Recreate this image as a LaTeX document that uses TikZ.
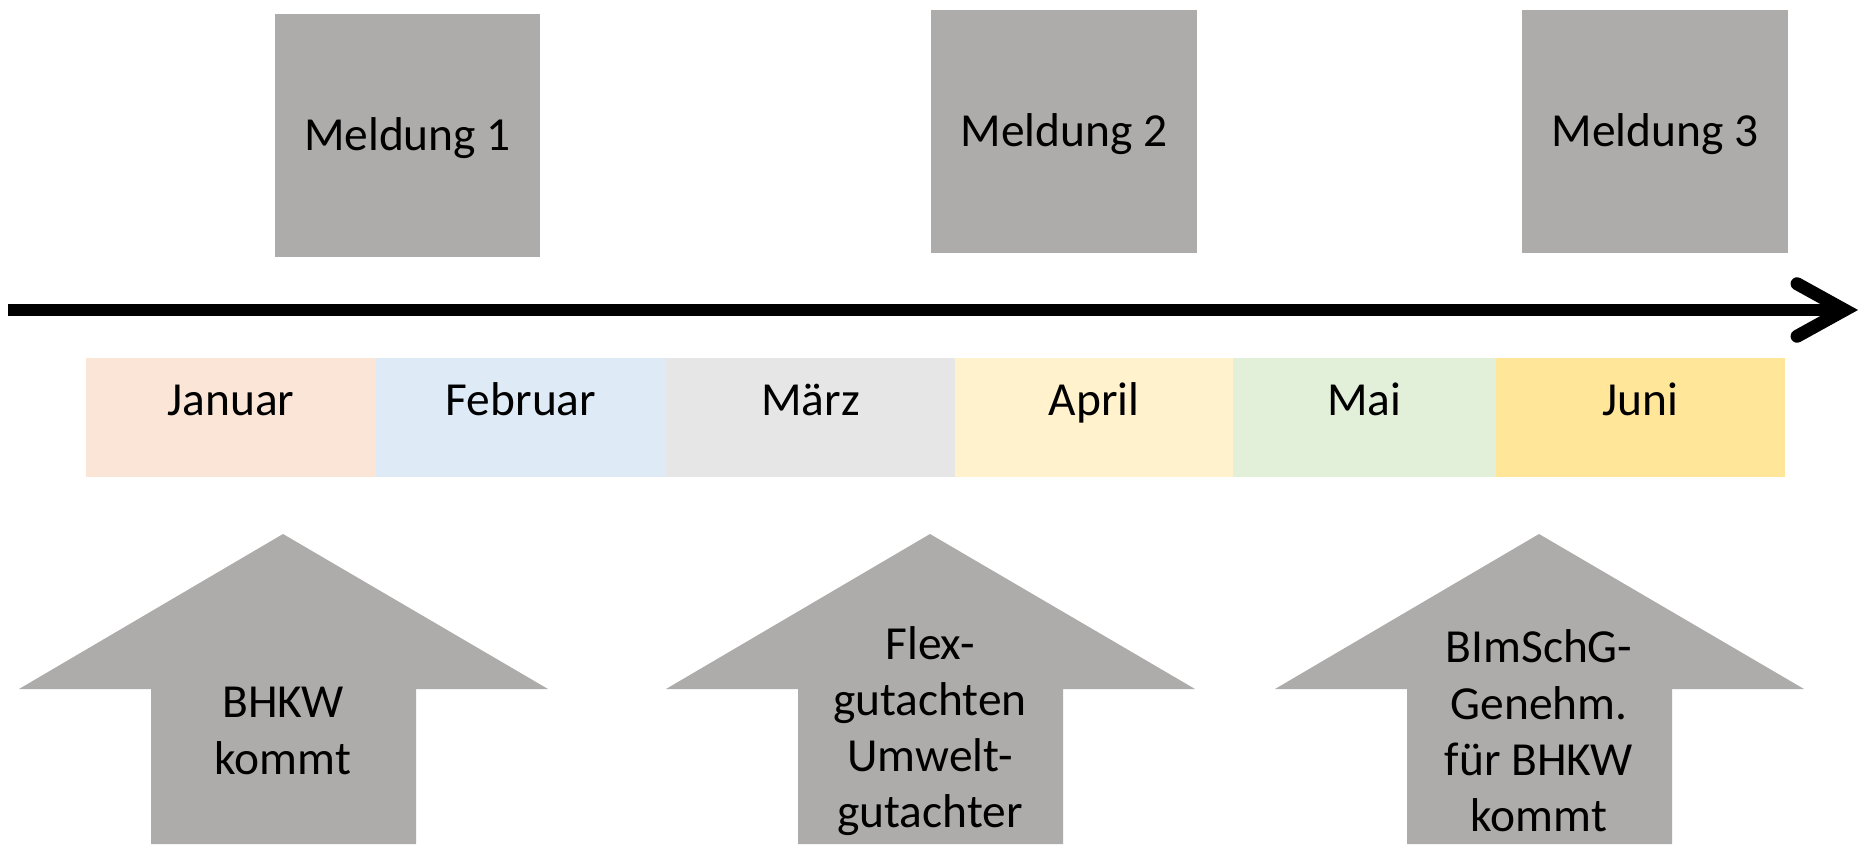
\documentclass[tikz,border=0pt]{standalone}
\usepackage{fontspec}
\setmainfont{Carlito}
\usepackage{tikz}
\usetikzlibrary{arrows.meta}
\usetikzlibrary{positioning}
\definecolor{grau}{HTML}{AEABAB}
\definecolor{jan}{HTML}{FBE5D6}
\definecolor{feb}{HTML}{DEEBF7}
\definecolor{mrz}{HTML}{E7E6E6}
\definecolor{apr}{HTML}{FFF2CC}
\definecolor{mai}{HTML}{E2F0D9}
\definecolor{jun}{HTML}{FFE699}

\begin{document}
\begin{tikzpicture}[x=0.02cm, y=-0.02cm,
	meldung/.style={fill=grau, inner sep=0pt, minimum width=5.32cm, minimum height=4.86cm, text height=20pt, text depth=3pt, font=\fontsize{27}{32}\selectfont},
	monat/.style={anchor=base, inner sep=0pt, font=\fontsize{27}{32}\selectfont},
	pfeil/.style={fill=grau},
	pfeiltext/.style={align=center, inner sep=0pt, font=\fontsize{27}{32}\selectfont}]
		\useasboundingbox (0,0) rectangle (1865,851);
		\node[meldung] (m1) at (407.5,135.5) {Meldung 1};
		\node[meldung] (m2) at (1064,131.5) {Meldung 2};
		\node[meldung] (m3) at (1655,131.5) {Meldung 3};
		% Zeitachse
		\coordinate (start) at (8,310);
		\coordinate (ende) at (1858,310);
		\draw[line width=0.26cm, -{Straight Barb[length=0.95cm, width=1.05cm, line width=0.26cm, line cap=round]}] (start) -- (ende);
		% Monate
		\fill[jan] (86,358) rectangle (376,477);
		\fill[feb] (376,358) rectangle (666,477);
		\fill[mrz] (666,358) rectangle (955,477);
		\fill[apr] (955,358) rectangle (1233,477);
		\fill[mai] (1233,358) rectangle (1496,477);
		\fill[jun] (1496,358) rectangle (1785,477);
		\node[monat] (januar) at (231,415) {Januar};
		\node[monat] (februar) at (521,415) {Februar};
		\node[monat] (maerz) at (810.5,415) {März};
		\node[monat] (april) at (1094,415) {April};
		\node[monat] (mai) at (1364.5,415) {Mai};
		\node[monat] (juni) at (1640.5,415) {Juni};
		% Pfeile unten
		\fill[pfeil] (283,534) -- ++(265,155) -- ++(-132,0) -- ++(0,155) -- ++(-265,0) -- ++(0,-155) -- ++(-132,0) -- cycle;
		\fill[pfeil] (930,534) -- ++(265,155) -- ++(-132,0) -- ++(0,155) -- ++(-265,0) -- ++(0,-155) -- ++(-132,0) -- cycle;
		\fill[pfeil] (1539,534) -- ++(265,155) -- ++(-132,0) -- ++(0,155) -- ++(-265,0) -- ++(0,-155) -- ++(-132,0) -- cycle;
		\node[pfeiltext] (p1) at (283,731) {BHKW\\kommt};
		\node[pfeiltext] (p2) at (930,731) {Flex-\\gutachten\\Umwelt-\\gutachter};
		\node[pfeiltext] (p3) at (1539,731) {BImSchG-\\Genehm.\\für BHKW\\kommt};
	\end{tikzpicture}
\end{document}
